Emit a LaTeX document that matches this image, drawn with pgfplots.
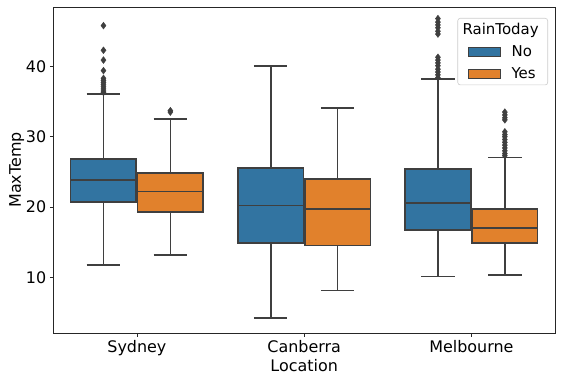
\documentclass[border=0pt]{standalone}
\usepackage{pgfplots}
\pgfplotsset{compat=1.18}
\usepackage{fontspec}
\setmainfont{DejaVu Sans}
\definecolor{cblue}{HTML}{3274A1}
\definecolor{corange}{HTML}{E1812C}
\definecolor{cgray}{HTML}{3F3F3F}
\pgfplotsset{
  wsk/.style={forget plot, draw=cgray, line width=1.6bp, no marks, unbounded coords=jump},
  bxs/.style={forget plot, draw=cgray, line width=1.6bp, no marks, line join=miter},
  outl/.style={forget plot, only marks, mark=diamond*, mark size=3.4bp,
    mark options={fill=cgray, draw=cgray, line width=0.4bp}},
}
\begin{document}
\begin{tikzpicture}
\begin{axis}[
  scale only axis, width=501.7bp, height=326bp,
  xmin=-0.5, xmax=2.5, ymin=2.08, ymax=48.45,
  xtick={0,1,2}, xticklabels={Sydney,Canberra,Melbourne},
  ytick={10,20,30,40},
  tick pos=left, tick align=outside, major tick length=3.5bp,
  major tick style={black!85, line width=0.8bp},
  tick label style={font=\fontsize{16}{19}\selectfont},
  label style={font=\fontsize{16}{19}\selectfont},
  /pgf/number format/assume math mode=true,
  xlabel=Location, ylabel=MaxTemp,
  xlabel style={yshift=3bp},
  ylabel style={yshift=-5bp},
  axis line style={black!85, line width=0.8bp},
  legend cell align=left,
  legend style={at={(1,1)}, anchor=north east, xshift=-7bp, yshift=-11bp,
    draw=black!20, rounded corners=2.5bp, line width=0.6bp,
    font=\fontsize{15}{18}\selectfont, row sep=5.5bp,
    nodes={inner sep=2bp},
    inner xsep=10bp, inner ysep=3bp},
  legend image code/.code={\draw[#1, sharp corners, line width=0.8bp] (0bp,-4.7bp) rectangle (32bp,4.7bp);},
]
% ---------- Sydney, No (x = -0.2)
\addplot[wsk] coordinates {(-0.3,36.1) (-0.1,36.1) (-0.2,nan) (-0.2,36.1) (-0.2,26.83) (-0.2,nan) (-0.2,20.75) (-0.2,11.75) (-0.2,nan) (-0.3,11.75) (-0.1,11.75)};
\addplot[bxs, fill=cblue] coordinates {(-0.396,20.75) (-0.004,20.75) (-0.004,26.83) (-0.396,26.83)} -- cycle;
\addplot[bxs] coordinates {(-0.396,23.84) (-0.004,23.84)};
\addplot[outl] coordinates {(-0.2,45.8) (-0.2,42.3) (-0.2,40.9) (-0.2,39.4) (-0.2,38.3) (-0.2,38.0) (-0.2,37.7) (-0.2,37.4) (-0.2,37.1) (-0.2,36.8) (-0.2,36.5) (-0.2,36.3)};
% ---------- Sydney, Yes (x = 0.2)
\addplot[wsk] coordinates {(0.1,32.56) (0.3,32.56) (0.2,nan) (0.2,32.56) (0.2,24.84) (0.2,nan) (0.2,19.33) (0.2,13.17) (0.2,nan) (0.1,13.17) (0.3,13.17)};
\addplot[bxs, fill=corange] coordinates {(0.004,19.33) (0.396,19.33) (0.396,24.84) (0.004,24.84)} -- cycle;
\addplot[bxs] coordinates {(0.004,22.18) (0.396,22.18)};
\addplot[outl] coordinates {(0.2,33.7) (0.2,33.5)};
% ---------- Canberra, No (x = 0.8)
\addplot[wsk] coordinates {(0.7,40.1) (0.9,40.1) (0.8,nan) (0.8,40.1) (0.8,25.55) (0.8,nan) (0.8,14.92) (0.8,4.25) (0.8,nan) (0.7,4.25) (0.9,4.25)};
\addplot[bxs, fill=cblue] coordinates {(0.604,14.92) (0.996,14.92) (0.996,25.55) (0.604,25.55)} -- cycle;
\addplot[bxs] coordinates {(0.604,20.19) (0.996,20.19)};
% ---------- Canberra, Yes (x = 1.2)
\addplot[wsk] coordinates {(1.1,34.08) (1.3,34.08) (1.2,nan) (1.2,34.08) (1.2,23.98) (1.2,nan) (1.2,14.5) (1.2,8.1) (1.2,nan) (1.1,8.1) (1.3,8.1)};
\addplot[bxs, fill=corange] coordinates {(1.004,14.5) (1.396,14.5) (1.396,23.98) (1.004,23.98)} -- cycle;
\addplot[bxs] coordinates {(1.004,19.76) (1.396,19.76)};
% ---------- Melbourne, No (x = 1.8)
\addplot[wsk] coordinates {(1.7,38.2) (1.9,38.2) (1.8,nan) (1.8,38.2) (1.8,25.4) (1.8,nan) (1.8,16.77) (1.8,10.09) (1.8,nan) (1.7,10.09) (1.9,10.09)};
\addplot[bxs, fill=cblue] coordinates {(1.604,16.77) (1.996,16.77) (1.996,25.4) (1.604,25.4)} -- cycle;
\addplot[bxs] coordinates {(1.604,20.61) (1.996,20.61)};
\addplot[outl] coordinates {(1.8,46.8) (1.8,46.3) (1.8,45.9) (1.8,45.5) (1.8,45.0) (1.8,44.6) (1.8,41.3) (1.8,40.9) (1.8,40.5) (1.8,40.1) (1.8,39.6) (1.8,39.2) (1.8,38.8) (1.8,38.4)};
% ---------- Melbourne, Yes (x = 2.2)
\addplot[wsk] coordinates {(2.1,27.07) (2.3,27.07) (2.2,nan) (2.2,27.07) (2.2,19.72) (2.2,nan) (2.2,14.92) (2.2,10.33) (2.2,nan) (2.1,10.33) (2.3,10.33)};
\addplot[bxs, fill=corange] coordinates {(2.004,14.92) (2.396,14.92) (2.396,19.72) (2.004,19.72)} -- cycle;
\addplot[bxs] coordinates {(2.004,17.0) (2.396,17.0)};
\addplot[outl] coordinates {(2.2,33.5) (2.2,33.1) (2.2,32.7) (2.2,32.4) (2.2,30.7) (2.2,30.3) (2.2,30.0) (2.2,29.6) (2.2,29.2) (2.2,28.8) (2.2,28.4) (2.2,28.0) (2.2,27.6) (2.2,27.3)};
% ---------- legend
\addlegendimage{empty legend}
\addlegendentry{\makebox[0pt][l]{\hspace*{-40bp}RainToday}}
\addlegendimage{fill=cblue, draw=cgray}
\addlegendentry{\hspace*{9bp}No}
\addlegendimage{fill=corange, draw=cgray}
\addlegendentry{\hspace*{9bp}Yes}
\end{axis}
\path (current axis.south west) ++(-53.3bp,-48bp) coordinate (bbA);
\path (current axis.north east) ++(7bp,7bp) coordinate (bbB);
\path (bbA) rectangle (bbB);
\end{tikzpicture}
\end{document}
